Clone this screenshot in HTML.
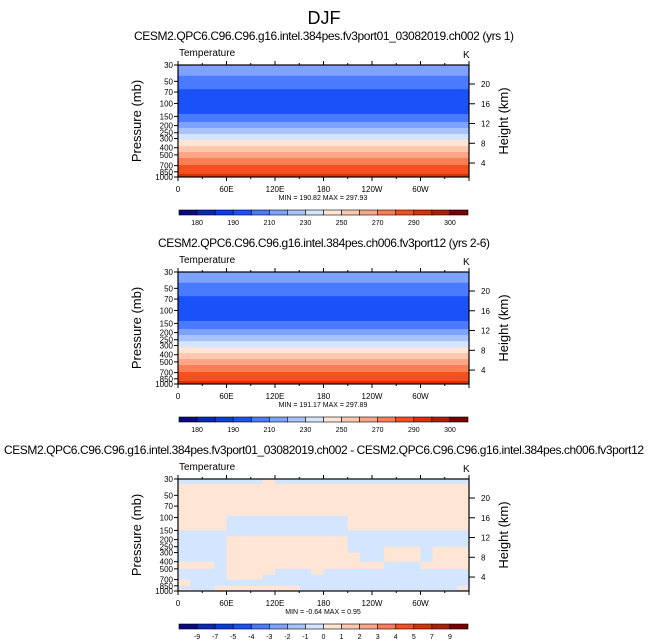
<!DOCTYPE html>
<html><head><meta charset="utf-8"><style>
body{margin:0;background:#fff;}
svg{display:block;font-family:"Liberation Sans",sans-serif;}
</style></head><body>
<svg id="fig" width="648" height="642" viewBox="0 0 648 642">
<text x="324" y="24" font-size="18" text-anchor="middle">DJF</text>
</svg>
<script>
// ---- data ----
const colors = ['#0a0a82','#0a28b4','#0a3ce6','#1a52f8','#4a7bff','#7ea2ff','#a9c3ff','#d3e5ff','#ffe5d4','#ffc8ae','#fca587','#fa7e54','#f5501e','#d83208','#b01e05','#7a0000'];
const tempLevels = [180,185,190,200,210,220,230,240,250,260,270,280,290,295,300];
const tempLevelLabels = ['180','','190','','210','','230','','250','','270','','290','','300'];
const diffLevels = [-9,-7,-5,-4,-3,-2,-1,0,1,2,3,4,5,7,9];
const diffLevelLabels = ['-9','-7','-5','-4','-3','-2','-1','0','1','2','3','4','5','7','9'];
const bandEdges1 = [30,42,64,139,179,216,261,315,380,458,553,686,909,1000];
const bandTemps1 = [215,205,195,205,215,225,235,245,255,265,275,285,292];
const bandEdges2 = [30,42,64,139,179,216,261,315,380,458,553,686,909,1000];
const bandTemps2 = [215,205,195,205,215,225,235,245,255,265,275,285,292];
const pTicks = [30,50,70,100,150,200,250,300,400,500,700,850,1000];
const kmTicks = [20,16,12,8,4];
const lonTicks = [0,60,120,180,240,300];
const lonLabels = ['0','60E','120E','180','120W','60W'];
const diffEdges = [30,35,50,70,95,150,180,250,300,400,500,600,700,850,950,1000];
const diffRows = [
 '-------+----------------',
 '++++++++++++++++++++++++',
 '++++++++++++++++++++++++',
 '++++++++++++++++++++++++',
 '++++----------++++++++++',
 '------------------------',
 '----++++++++++----------',
 '----++++++++++---+++-+++',
 '----+++++++++++--+++-+++',
 '+++-+++++++++++++---++++',
 '----++++---+------------',
 '----+++-----------------',
 '+-----------------------',
 '---+++++++-------------+',
 '+--+++++++--------------'];
const diffMag = 0.4;

// ---- helpers ----
const NS='http://www.w3.org/2000/svg';
const svg=document.getElementById('fig');
function el(tag,attrs,parent){const e=document.createElementNS(NS,tag);for(const k in attrs)e.setAttribute(k,attrs[k]);(parent||svg).appendChild(e);return e;}
const X0=178,X1=469,H=112;
function xScale(lon){return X0+(X1-X0)*lon/360;}
function colorFor(v,levels){let i=0;while(i<levels.length&&v>=levels[i])i++;return colors[i];}

function drawPanel(top,title,titleLen,drawData,minmax,levels,labels){
  const yScale=p=>top+H*Math.log(p/30)/Math.log(1000/30);
  const t=el('text',{x:324,y:top-25,'font-size':12,'text-anchor':'middle'});
  if(titleLen)t.setAttribute('textLength',titleLen);
  
  
  t.textContent=title;
  const l=el('text',{x:179,y:top-9,'font-size':10});
  
  
  l.textContent='Temperature';
  const k=el('text',{x:463,y:top-7,'font-size':10});
  
  
  k.textContent='K';
  const g=el('g',{});
  
  
  drawData(g,yScale);
  const f=el('rect',{x:X0,y:top,width:X1-X0,height:H,fill:'none',stroke:'#000','stroke-width':1.2});
  
  
  pTicks.forEach(p=>{const y=yScale(p);
    el('line',{x1:X0-4,x2:X0,y1:y,y2:y,stroke:'#000'});
    const tx=el('text',{x:X0-5,y:y+3,'font-size':8,'text-anchor':'end'});
    
    
    tx.textContent=p;});
  kmTicks.forEach(km=>{const y=top+19+(20-km)*4.94;
    el('line',{x1:X1,x2:X1+6,y1:y,y2:y,stroke:'#000'});
    const tx=el('text',{x:X1+12,y:y+3,'font-size':8});
    
    
    tx.textContent=km;});
  for(let lon=0;lon<=360;lon+=30){const x=xScale(lon);const len=lon%60?2:4;
    el('line',{x1:x,x2:x,y1:top-len,y2:top,stroke:'#000'});
    el('line',{x1:x,x2:x,y1:top+H,y2:top+H+len,stroke:'#000'});}
  lonTicks.forEach((lon,i)=>{const tx=el('text',{x:xScale(lon),y:top+H+15,'font-size':8,'text-anchor':'middle'});
    
    
    tx.textContent=lonLabels[i];});
  const py=el('text',{x:0,y:0,'font-size':13,'text-anchor':'middle',transform:`translate(141,${top+H/2}) rotate(-90)`});
  
  
  py.textContent='Pressure (mb)';
  const hy=el('text',{x:0,y:0,'font-size':13,'text-anchor':'middle',transform:`translate(508,${top+H/2}) rotate(-90)`});
  
  
  hy.textContent='Height (km)';
  const mm=el('text',{x:323,y:top+H+23,'font-size':7,'text-anchor':'middle'});
  
  
  mm.textContent=minmax;
  const cy=top+H+33, cw=(468-179)/16;
  const cb=el('g',{});
  
  
  colors.forEach((c,i)=>el('rect',{x:179+i*cw,y:cy,width:cw,height:5,fill:c,stroke:'#000','stroke-width':0.6},cb));
  levels.forEach((v,i)=>{if(!labels[i])return;const tx=el('text',{x:179+(i+1)*cw,y:cy+15,'font-size':7,'text-anchor':'middle'},cb);
    
    
    tx.textContent=labels[i];});
}

function bands(edges,temps){return (g,yScale)=>{temps.forEach((t,i)=>{
  const y0=yScale(edges[i]),y1=yScale(edges[i+1]);
  const r=el('rect',{x:X0,y:y0,width:X1-X0,height:y1-y0+0.5,fill:colorFor(t,tempLevels)},g);
  
  });};}

function diffField(g,yScale){diffRows.forEach((row,r)=>{
  const y0=yScale(diffEdges[r]),y1=yScale(diffEdges[r+1]);
  row.split('').forEach((s,c)=>{const v=s==='+'?diffMag:-diffMag;
    const x0=xScale(c*15),x1=xScale((c+1)*15);
    const cell=el('rect',{x:x0,y:y0,width:x1-x0+0.5,height:y1-y0+0.5,fill:colorFor(v,diffLevels)},g);
    
    });});}

drawPanel(65,'CESM2.QPC6.C96.C96.g16.intel.384pes.fv3port01_03082019.ch002 (yrs 1)',380,bands(bandEdges1,bandTemps1),'MIN = 190.82  MAX = 297.93',tempLevels,tempLevelLabels);
drawPanel(272,'CESM2.QPC6.C96.C96.g16.intel.384pes.ch006.fv3port12 (yrs 2-6)',332,bands(bandEdges2,bandTemps2),'MIN = 191.17  MAX = 297.89',tempLevels,tempLevelLabels);
drawPanel(479,'CESM2.QPC6.C96.C96.g16.intel.384pes.fv3port01_03082019.ch002 - CESM2.QPC6.C96.C96.g16.intel.384pes.ch006.fv3port12',640,diffField,'MIN =  -0.64  MAX =   0.95',diffLevels,diffLevelLabels);
</script>
</body></html>
